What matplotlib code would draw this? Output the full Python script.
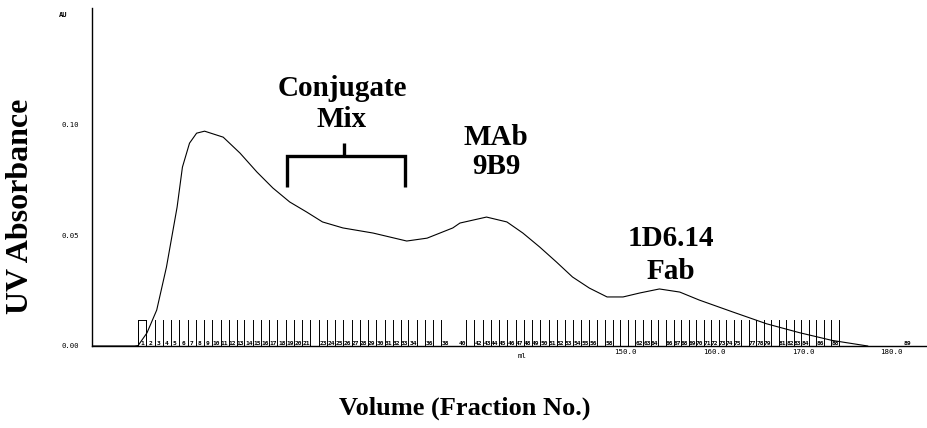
import matplotlib
matplotlib.use('Agg')
import matplotlib.pyplot as plt
from matplotlib.patches import Rectangle
from matplotlib.lines import Line2D

# ---------------- data ----------------
volume_ml = [89.8, 94.6, 95.0, 96.0, 97.1, 98.2, 99.4, 100.0, 100.8, 101.6, 102.5,
             104.6, 106.5, 108.4, 110.2, 112.1, 114.0, 115.8, 118.1, 121.5, 125.3,
             127.6, 130.5, 131.3, 134.3, 136.6, 138.4, 140.3, 142.2, 144.0, 145.9,
             147.9, 149.7, 151.6, 153.8, 156.1, 158.3, 162.1, 165.9, 169.6, 173.3,
             177.3]
absorbance_au = [0.0, 0.0, 0.0002, 0.0059, 0.0162, 0.0356, 0.0626, 0.0806, 0.0914,
                 0.0959, 0.0968, 0.0941, 0.0869, 0.0784, 0.0712, 0.0649, 0.0604,
                 0.0559, 0.0532, 0.0509, 0.0473, 0.0486, 0.0532, 0.0554, 0.0581,
                 0.0559, 0.0509, 0.0446, 0.0378, 0.0311, 0.0261, 0.0221, 0.0221,
                 0.0239, 0.0257, 0.0243, 0.0207, 0.0153, 0.0100, 0.0060, 0.0025,
                 0.0]

fraction_numbers = [1, 2, 3, 4, 5, 6, 7, 8, 9, 10, 11, 12, 13, 14, 15, 16, 17, 18,
                    19, 20, 21, 22, 23, 24, 25, 26, 27, 28, 29, 30, 31, 32, 33, 34,
                    35, 36, 37, 38, 39, 40, 41, 42, 43, 44, 45, 46, 47, 48, 49, 50,
                    51, 52, 53, 54, 55, 56, 57, 58, 59, 60, 61, 62, 63, 64, 65, 66,
                    67, 68, 69, 70, 71, 72, 73, 74, 75, 76, 77, 78, 79, 80, 81, 82,
                    83, 84, 85, 86, 87, 88]
fraction_start_ml = [95.0, 95.9, 96.9, 97.8, 98.7, 99.6, 100.6, 101.5, 102.4, 103.3,
                     104.3, 105.2, 106.1, 107.0, 108.0, 108.9, 109.8, 110.7, 111.7,
                     112.6, 113.5, 114.4, 115.4, 116.3, 117.2, 118.1, 119.1, 120.0,
                     120.9, 121.8, 122.8, 123.7, 124.6, 125.5, 126.5, 127.4, 128.3,
                     129.2, 130.2, 131.1, 132.0, 132.9, 133.9, 134.8, 135.7, 136.6,
                     137.6, 138.5, 139.4, 140.3, 141.3, 142.2, 143.1, 144.0, 145.0,
                     145.9, 146.8, 147.7, 148.6, 149.4, 150.3, 151.1, 152.0, 152.8,
                     153.7, 154.5, 155.4, 156.2, 157.1, 157.9, 158.8, 159.6, 160.5,
                     161.3, 162.2, 163.0, 163.9, 164.7, 165.6, 166.4, 167.3, 168.1,
                     169.0, 169.8, 170.7, 171.5, 172.4, 173.2]
fraction_end_ml = 174.1
fraction_mark_height = 0.0117
fraction_lines_missing = [39, 40]
fraction_labels_missing = [22, 35, 37, 39, 41, 57, 59, 60, 61, 65, 76, 80, 85, 87]
last_fraction_label = '89'
last_fraction_ml = 181.8

x_ticks = [150.0, 160.0, 170.0, 180.0]
x_tick_labels = ['150.0', '160.0', '170.0', '180.0']
x_unit_label = 'ml'
x_unit_ml = 138.3
y_ticks = [0.00, 0.05, 0.10]
y_tick_labels = ['0.00', '0.05', '0.10']
y_unit_label = 'AU'
y_unit_au = 0.149

peak_labels = ['Conjugate\nMix', 'MAb\n9B9', '1D6.14\nFab']
x_title = 'Volume (Fraction No.)'
y_title = 'UV Absorbance'

# ---------------- figure ----------------
W, H = 928, 428
fig = plt.figure(figsize=(W / 100, H / 100), dpi=100)
fig.patch.set_facecolor('white')


def fx(px):
    return px / W


def fy(py):
    return 1 - py / H


ax = fig.add_axes([fx(92), fy(346), (928 - 92) / W, (346 - 8) / H])
ax.set_xlim(89.8, 184.1)
ax.set_ylim(0, 0.1523)

for side in ['top', 'right']:
    ax.spines[side].set_visible(False)
ax.spines['left'].set_linewidth(1.0)
ax.spines['bottom'].set_linewidth(1.0)

mono = 'DejaVu Sans Mono'
serif = 'Liberation Serif'

ax.set_xticks(x_ticks)
ax.set_xticklabels(x_tick_labels, family=mono, fontsize=5.4)
ax.set_yticks(y_ticks)
ax.set_yticklabels(y_tick_labels, family=mono, fontsize=5.2)
ax.tick_params(axis='x', length=0, pad=2.5)
ax.tick_params(axis='y', length=0, pad=9.5)

# unit labels
ax.text(x_unit_ml, -0.0045, x_unit_label, family=mono, fontsize=5.4,
        ha='center', va='center')
ax.text(-0.04, y_unit_au, y_unit_label, transform=ax.get_yaxis_transform(),
        family=mono, fontsize=5.0, ha='left', va='center', fontweight='bold')

# chromatogram trace
ax.plot(volume_ml, absorbance_au, color='black', lw=0.8, solid_joinstyle='round')

# fraction marks
edges = fraction_start_ml + [fraction_end_ml]
for i, n in enumerate(fraction_numbers):
    a, b = edges[i], edges[i + 1]
    if n not in fraction_lines_missing:
        ax.plot([a, a], [0, fraction_mark_height], color='black', lw=0.7)
    if n not in fraction_labels_missing:
        ax.text((a + b) / 2, 0.0002, str(n), family=mono, fontsize=4.5,
                ha='center', va='bottom', fontweight='bold')
ax.plot([fraction_end_ml, fraction_end_ml], [0, fraction_mark_height],
        color='black', lw=0.7)
ax.add_patch(Rectangle((edges[0], 0), edges[1] - edges[0], fraction_mark_height,
                       fill=False, lw=0.7, ec='black'))
ax.text(last_fraction_ml, 0.0002, last_fraction_label, family=mono, fontsize=4.6,
        ha='center', va='bottom', fontweight='bold')

# peak annotations
ann_pos = [(342, 104), (496, 152), (671, 255)]
ann_spacing = [1.22, 1.05, 1.25]
for (px, py), lab, ls in zip(ann_pos, peak_labels, ann_spacing):
    fig.text(fx(px), fy(py), lab, family=serif, fontweight='bold', fontsize=21,
             ha='center', va='center', linespacing=ls)

# bracket for conjugate mix
bracket_lw = 2.4
fig.add_artist(Line2D([fx(287), fx(287), fx(405), fx(405)],
                      [fy(187), fy(156), fy(156), fy(187)],
                      color='black', lw=bracket_lw, solid_joinstyle='miter',
                      solid_capstyle='butt'))
fig.add_artist(Line2D([fx(344), fx(344)], [fy(156), fy(143)],
                      color='black', lw=bracket_lw, solid_capstyle='butt'))

# axis titles
fig.text(fx(21), fy(206), y_title, rotation=90, family=serif, fontweight='bold',
         fontsize=23, ha='center', va='center')
fig.text(fx(465), fy(408), x_title, family=serif, fontweight='bold',
         fontsize=19, ha='center', va='center')

fig.savefig('out.png', dpi=100, facecolor='white')
